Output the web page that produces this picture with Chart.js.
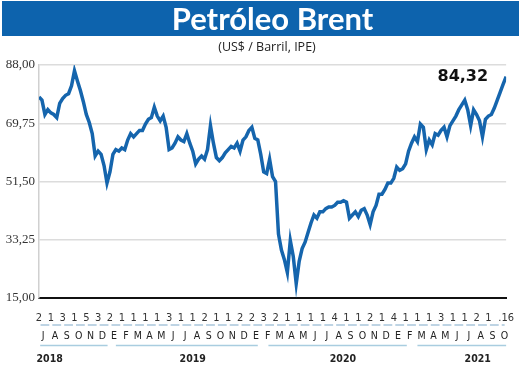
<!DOCTYPE html>
<html>
<head>
<meta charset="utf-8">
<script src="https://cdn.jsdelivr.net/npm/chart.js@4"></script>
<style>
  html, body { margin: 0; padding: 0; background: #fff; }
  #wrap { position: relative; width: 520px; height: 366px; overflow: hidden; }
  #banner {
    position: absolute; left: 2px; top: 1px; width: 517px; height: 35px;
    background: #0d63ad; color: #fff; text-align: center;
    font: bold 31px Lato, "Open Sans", sans-serif; line-height: 35px;
    box-sizing: border-box; padding-left: 24px;
  }
  #sub {
    position: absolute; left: 0; top: 38px; width: 520px; text-align: center;
    font: 12.5px "Open Sans", sans-serif; color: #222; padding-left: 14px; box-sizing: border-box;
  }
  canvas { position: absolute; left: 0; top: 0; }
</style>
</head>
<body>
<div id="wrap">
  <canvas id="brent" width="520" height="366"></canvas>
  <div id="banner">Petróleo Brent</div>
  <div id="sub">(US$ / Barril, IPE)</div>
</div>
<script>
// weekly readings (4 per month), Jul 2018 -> 16 Oct 2021
const brent2018 = [
  78.0, 77.0, 72.5, 74.0,   // Jul
  73.0, 72.5, 71.5, 76.0,   // Aug
  77.5, 78.5, 79.0, 81.5,   // Sep
  86.2, 83.0, 80.0, 76.5,   // Oct
  72.5, 70.0, 66.5, 59.5,   // Nov
  61.0, 60.0, 56.5, 51.0    // Dec
];
const brent2019 = [
  54.5, 60.0, 61.5, 61.0,   // Jan
  62.0, 61.5, 64.5, 66.5,   // Feb
  65.5, 66.5, 67.5, 67.5,   // Mar
  69.5, 71.0, 71.5, 74.8,   // Apr
  72.0, 70.5, 72.0, 68.5,   // May
  61.5, 62.0, 63.5, 65.5,   // Jun
  64.5, 64.0, 66.5, 63.5,   // Jul
  61.0, 57.0, 58.5, 59.5,   // Aug
  58.5, 61.5, 69.0, 63.5,   // Sep
  59.0, 58.0, 59.0, 60.5,   // Oct
  61.5, 62.5, 62.0, 63.5,   // Nov
  61.0, 64.5, 65.5, 67.5    // Dec
];
const brent2020 = [
  68.5, 65.0, 64.5, 60.0,   // Jan
  54.5, 54.0, 58.5, 53.0,   // Feb
  51.5, 35.0, 30.0, 27.0,   // Mar
  23.0, 33.0, 28.0, 19.5,   // Apr
  26.5, 30.5, 32.5, 35.5,   // May
  38.5, 41.0, 40.0, 42.0,   // Jun
  42.0, 43.0, 43.5, 43.5,   // Jul
  44.0, 45.0, 45.0, 45.5,   // Aug
  45.0, 40.0, 41.0, 42.0,   // Sep
  40.5, 42.5, 43.0, 41.0,   // Oct
  38.0, 42.0, 44.0, 47.5,   // Nov
  47.5, 49.0, 51.0, 51.0    // Dec
];
const brent2021 = [
  52.5, 56.0, 55.0, 55.5,   // Jan
  57.0, 61.0, 63.5, 65.5,   // Feb
  64.0, 69.5, 68.5, 61.5,   // Mar
  64.5, 63.0, 66.5, 66.0,   // Apr
  67.5, 68.5, 65.5, 69.0,   // May
  70.5, 72.0, 74.0, 75.5,   // Jun
  77.0, 74.0, 69.0, 74.0,   // Jul
  72.5, 70.5, 65.5, 71.0,   // Aug
  72.0, 72.5, 74.5, 77.0,   // Sep
  79.5, 82.0, 84.32         // Oct (to the 16th)
];
const lastValue = 84.32;

const yTicks = [15, 33.25, 51.5, 69.75, 88];
// first trading day of each month, last label is the closing date
const dayLabels = ['2','1','3','1','5','3',
  '2','1','1','1','1','3','1','1','2','1','1','2',
  '2','3','2','1','1','1','1','4','1','1','2','1',
  '4','1','1','1','3','1','1','2','1', '.16'];
const monthLetters = 'JASONDEFMAMJJASONDEFMAMJJASONDEFMAMJJASO'.split('');
const years = ['2018', '2019', '2020', '2021'];

// layout bits (month units on the x scale)
const yearLine = [[0.1, 5.8], [6.5, 18.5], [19.4, 31.1], [32.0, 39.5]];
const yearPos = [0.9, 13.0, 25.7, 37.1];

const series = [...brent2018, ...brent2019, ...brent2020, ...brent2021];
const points = series.map((v, i) => ({ x: i / 4, y: v }));
points[points.length - 1].x = 39.5;
const dayPos = dayLabels.map((d, i) => i < 39 ? i : 39.5);

const narrow = '"Liberation Sans Narrow", "DejaVu Sans Condensed", sans-serif';

const lowerRows = {
  id: 'lowerRows',
  afterDraw(chart) {
    const ctx = chart.ctx, x = chart.scales.x, y = chart.scales.y;
    ctx.save();
    // dashes, one per month
    ctx.strokeStyle = '#a9c6dc';
    ctx.lineWidth = 1.5;
    ctx.beginPath();
    for (let i = 0; i < monthLetters.length; i++) {
      const a = x.getPixelForValue(i) + 1.5;
      const b = Math.min(x.getPixelForValue(i + 1), x.right) - 1.5;
      ctx.moveTo(a, 325); ctx.lineTo(b, 325);
    }
    ctx.stroke();
    // month letters
    ctx.fillStyle = '#222';
    ctx.font = '10.5px ' + narrow;
    ctx.textAlign = 'center';
    ctx.textBaseline = 'middle';
    monthLetters.forEach((m, i) => ctx.fillText(m, x.getPixelForValue(i + 0.35), 336));
    // year underlines
    ctx.strokeStyle = '#a9cde0';
    ctx.beginPath();
    yearLine.forEach(([a, b]) => {
      ctx.moveTo(x.getPixelForValue(a), 345.5);
      ctx.lineTo(x.getPixelForValue(b), 345.5);
    });
    ctx.stroke();
    // years
    ctx.font = 'bold 10.5px ' + narrow;
    years.forEach((t, i) => ctx.fillText(t, x.getPixelForValue(yearPos[i]), 359));
    // last value
    ctx.font = 'bold 16px "DejaVu Sans", sans-serif';
    ctx.textAlign = 'right';
    ctx.fillStyle = '#111';
    ctx.fillText(lastValue.toFixed(2).replace('.', ','), x.getPixelForValue(39.5) - 18, y.getPixelForValue(lastValue));
    ctx.restore();
  }
};

new Chart(document.getElementById('brent'), {
  type: 'line',
  data: {
    datasets: [{
      data: points,
      borderColor: '#1565ad',
      borderWidth: 3.5,
      pointRadius: 0,
      tension: 0,
      fill: false
    }]
  },
  options: {
    responsive: false,
    animation: false,
    layout: { padding: { top: 65, right: 3, left: 0, bottom: 0 } },
    plugins: { legend: { display: false }, tooltip: { enabled: false } },
    scales: {
      x: {
        type: 'linear', min: 0, max: 39.5,
        grid: { display: false },
        border: { color: '#111', width: 2 },
        afterBuildTicks: s => { s.ticks = dayPos.map(v => ({ value: v })); },
        afterFit: s => { s.height = 68; },
        ticks: {
          autoSkip: false, maxRotation: 0, padding: 6,
          color: '#333', font: { size: 11, family: narrow },
          callback: (v, i) => dayLabels[i]
        }
      },
      y: {
        min: 15, max: 88,
        grid: { color: '#dcdcdc', lineWidth: 1.5, drawTicks: false },
        border: { color: '#d0d0d0', width: 1.5 },
        afterBuildTicks: s => { s.ticks = yTicks.map(v => ({ value: v })); },
        afterFit: s => { s.width = 39; },
        ticks: {
          padding: 4, color: '#333',
          font: { size: 13, family: '"Liberation Serif", serif' },
          callback: v => v.toFixed(2).replace('.', ',')
        }
      }
    }
  },
  plugins: [lowerRows]
});
</script>
</body>
</html>
